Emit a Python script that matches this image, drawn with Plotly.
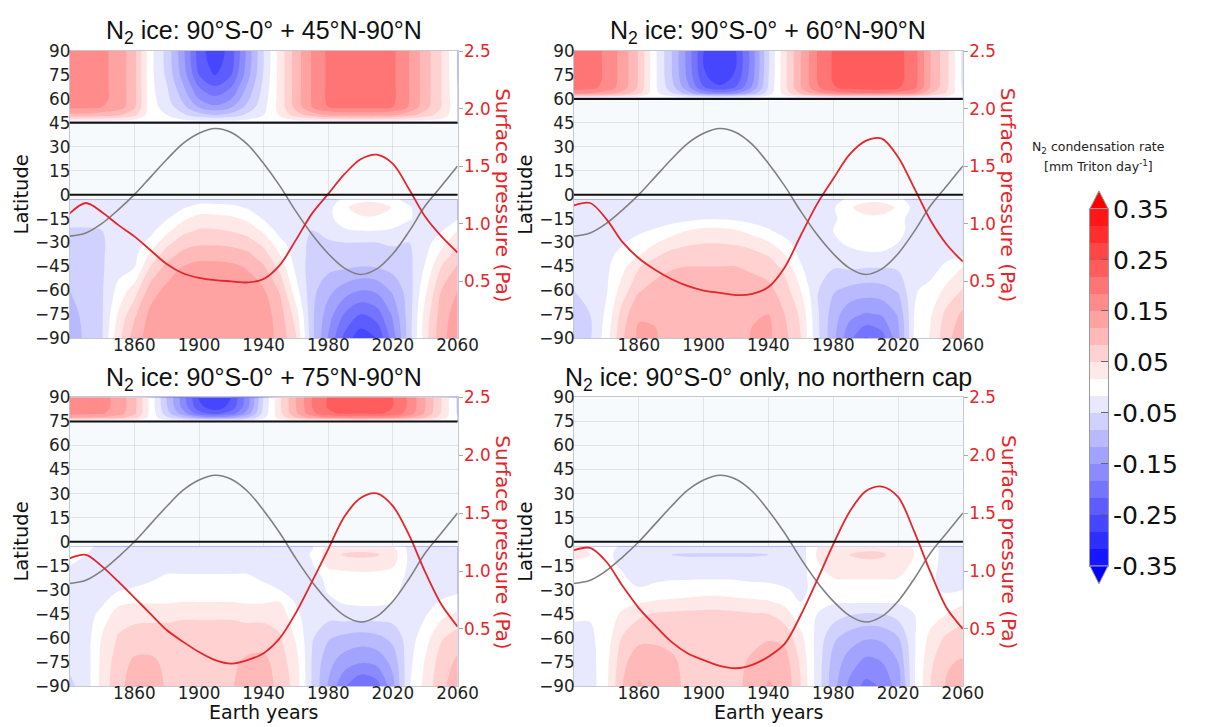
import numpy as np
import plotly.graph_objects as go

# ---------------------------------------------------------------- data
YEARS = list(range(1820, 2061, 10))

# latitude of the grid rows (south cap, listed from the equator to the pole)
SOUTH_LATS = [-3, -8, -15, -22.5, -30, -37.5, -45, -60, -75, -90]
N1_LATS = [46, 50, 55, 60, 67.5, 75, 82.5, 90]
N2_LATS = [61, 63.5, 67, 72, 80, 90]
N3_LATS = [75.5, 77.5, 80, 84, 90]
CAP_EDGES = [45, 60, 75, None]

# subsolar latitude (grey curve, deg)
SUBSOLAR_LAT = [-26, -24, -18, -9.5, 0, 11, 22, 32, 38.5, 41.5, 39, 31.5, 19.5,
                5.5, -10.5, -25, -37, -46, -50, -46.5, -37, -23, -7, 5.5, 18]

# surface pressure (red curves, Pa)
P1_PRESSURE = [1.09, 1.18, 1.10, 0.99, 0.89, 0.77, 0.65, 0.57, 0.53, 0.51, 0.50, 0.49, 0.52,
               0.64, 0.86, 1.09, 1.26, 1.43, 1.56, 1.60, 1.52, 1.30, 1.06, 0.89, 0.75]
P2_PRESSURE = [1.16, 1.18, 1.04, 0.84, 0.70, 0.60, 0.52, 0.46, 0.42, 0.40, 0.38, 0.39, 0.45,
               0.62, 0.90, 1.17, 1.39, 1.60, 1.72, 1.74, 1.58, 1.31, 1.03, 0.82, 0.67]
P3_PRESSURE = [1.11, 1.14, 1.04, 0.91, 0.77, 0.63, 0.49, 0.39, 0.30, 0.23, 0.20, 0.23, 0.29,
               0.42, 0.64, 0.91, 1.19, 1.47, 1.63, 1.67, 1.56, 1.31, 0.99, 0.71, 0.52]
P4_PRESSURE = [1.18, 1.20, 1.08, 0.87, 0.68, 0.53, 0.39, 0.29, 0.23, 0.18, 0.16, 0.19, 0.26,
               0.37, 0.62, 0.92, 1.23, 1.51, 1.69, 1.73, 1.64, 1.34, 0.99, 0.68, 0.50]

# N2 condensation rate, in units of one colour-bar band (one year column per row)
P1_SOUTH = [
    [-1, -1, -1.2, -1.6, -1.9, -2, -2.1, -2.5, -2.9, -3.1],
    [-1, -1, -1.2, -1.6, -1.8, -1.85, -1.9, -2, -2.2, -2.3],
    [-1, -1, -1.1, -1.5, -1.6, -1.6, -1.6, -1.6, -1.6, -1.6],
    [-1, -1, -1.1, -1.1, -1.1, -1, -0.9, -0.2, 0.6, 1.2],
    [-1, -1, -1, -1, -1, -0.8, -0.6, 1, 2.3, 3],
    [-1, -1, -1, -0.8, -0.2, 0.7, 1.5, 3, 3.8, 4],
    [-1, -0.9, -0.6, 0.2, 1.2, 2, 2.8, 3.8, 4, 4.1],
    [-1, -0.6, 0.3, 1.2, 2, 2.8, 3.5, 4, 4, 4.1],
    [-1, -0.1, 0.85, 1.6, 2.3, 3.1, 3.8, 4, 4.1, 4.2],
    [-1, -0.1, 0.85, 1.6, 2.3, 3.1, 3.8, 4, 4.1, 4.2],
    [-1, -0.25, 0.7, 1.45, 2.2, 3, 3.7, 4, 4.1, 4.2],
    [-1, -0.6, 0.3, 1.1, 1.9, 2.7, 3.4, 4, 4, 4.1],
    [-1, -1, -0.6, 0.3, 1.2, 1.9, 2.6, 3.6, 4, 4],
    [-1, -1, -1, -0.9, -0.2, 0.5, 1.2, 2.4, 3, 3.2],
    [-1, -1, -1, -1.1, -1.1, -1, -0.8, -0.1, 1, 1.6],
    [-1, -1, -1.2, -1.5, -1.7, -1.8, -2, -2.2, -2.3, -2.2],
    [-1, -0.8, -0.7, -1.2, -1.6, -1.9, -2.2, -3.2, -4, -4.6],
    [-0.3, 0.2, -0.1, -0.6, -1.5, -1.9, -2.3, -4, -5.6, -6.8],
    [0, 1.3, 0.2, -0.5, -1.5, -2, -2.5, -4.5, -6.5, -8.2],
    [0, 1.3, 0.2, -0.5, -1.5, -1.9, -2.4, -4.3, -6, -7.5],
    [-0.3, 0.4, -0.1, -0.6, -1.4, -1.7, -2.1, -3.3, -4.3, -5],
    [-0.8, -0.4, -0.4, -1, -1.5, -1.7, -1.8, -2, -2, -2],
    [-1, -1, -1, -1.1, -0.9, -0.7, -0.4, 0.3, 0.9, 1.1],
    [-1, -1, -0.9, -0.6, 0.1, 0.8, 1.5, 2.5, 3, 3.2],
    [-1, -0.9, -0.6, 0.5, 1.3, 2, 2.6, 3.5, 4, 4.1],
]
P2_SOUTH = [
    [-0.6, -0.6, -0.8, -1.1, -1.2, -1.3, -1.3, -1.5, -1.9, -2.1],
    [-0.8, -0.8, -1, -1.1, -1.2, -1.2, -1.2, -1.4, -1.5, -1.6],
    [-1, -1, -1, -1, -0.9, -0.8, -0.7, -0.6, -0.3, 0],
    [-1, -1, -1, -0.9, -0.6, -0.2, 0.2, 1, 2, 2.4],
    [-1, -1, -1, -0.7, -0.1, 0.4, 1.4, 2.4, 3.4, 3.7],
    [-1, -1, -1, -0.4, 0.4, 1.3, 2, 2.9, 3.4, 3.6],
    [-1, -1, -0.9, 0, 1, 1.8, 2.4, 3, 3, 3],
    [-1, -1, -0.8, 0.5, 1.3, 2, 2.5, 3, 3, 3],
    [-1, -1, -0.6, 0.8, 1.45, 2.1, 2.5, 3, 3, 3],
    [-1, -1, -0.6, 0.8, 1.45, 2.1, 2.5, 3, 3, 3],
    [-1, -1, -0.7, 0.6, 1.35, 2, 2.5, 3, 3, 3],
    [-1, -1, -0.9, 0.1, 1.1, 1.8, 2.3, 3, 3.4, 3.6],
    [-1, -1, -1, -0.4, 0.6, 1.4, 2, 2.8, 3.5, 3.7],
    [-1, -1, -1, -0.9, -0.2, 0.5, 1.2, 2, 2.5, 2.8],
    [-1, -1, -1, -1.1, -1, -0.8, -0.4, 0.5, 1.3, 1.5],
    [-1, -1, -1, -1.1, -1.2, -1.3, -1.4, -1.4, -1.3, -1.2],
    [-0.9, -0.6, -0.6, -0.5, -0.7, -1, -1.4, -2.4, -3, -3.2],
    [-0.3, 0.3, -0.2, -0.1, -0.3, -0.8, -1.3, -2.8, -4.2, -5.2],
    [0, 1.2, 0.1, 0, -0.2, -0.6, -1.4, -3, -4.6, -6.6],
    [0, 1.2, 0.1, 0, -0.2, -0.6, -1.4, -2.9, -4.4, -6],
    [-0.3, 0.3, -0.2, -0.2, -0.5, -0.9, -1.3, -2.4, -3.4, -3.8],
    [-0.9, -0.8, -0.9, -0.9, -1, -1, -0.9, -0.6, -0.5, -0.4],
    [-1, -1, -1, -1.1, -1.1, -1.1, -0.9, -0.2, 0.4, 0.6],
    [-1, -1, -1, -1, -1, -0.8, -0.3, 0.8, 1.8, 2.2],
    [-1, -1, -1, -1, -0.9, -0.6, 0.5, 1.6, 2.7, 3.2],
]
P3_SOUTH = [
    [-0.3, -0.4, -0.5, -0.6, -0.9, -1, -1, -1.1, -1.3, -1.7],
    [-0.4, -0.5, -0.6, -0.8, -1, -1, -1, -1, -1, -1.1],
    [-0.6, -0.8, -1, -1, -1, -0.7, -0.2, 0.6, 0.8, 0.9],
    [-1, -1, -1, -0.9, -0.6, 0.2, 1, 1.6, 2, 2.2],
    [-1, -1, -1, -0.8, -0.4, 0.4, 1.2, 1.9, 2.7, 3],
    [-1, -1, -0.9, -0.6, -0.3, 0.4, 1.2, 2, 2.7, 3],
    [-1, -1, -0.7, -0.4, -0.2, 0.4, 1.2, 2, 2.3, 2.4],
    [-1, -1, -0.7, -0.4, -0.2, 0.5, 1.3, 2.1, 2.2, 2.3],
    [-1, -1, -0.7, -0.4, -0.2, 0.5, 1.3, 2.1, 2.2, 2.3],
    [-1, -1, -0.7, -0.4, -0.2, 0.5, 1.3, 2.1, 2.2, 2.3],
    [-1, -1, -0.7, -0.4, -0.2, 0.5, 1.3, 2.1, 2.3, 2.4],
    [-1, -1, -0.7, -0.4, -0.2, 0.4, 1.2, 2, 2.7, 3],
    [-1, -1, -0.9, -0.6, -0.3, 0.4, 1.2, 2, 2.8, 3],
    [-1, -1, -1, -0.9, -0.5, 0.5, 1.1, 1.6, 2, 2.2],
    [-1, -1, -1, -1, -0.9, -0.6, -0.3, 0.4, 0.9, 1.1],
    [-0.6, -0.4, -0.6, -1, -1, -1, -1.1, -1.4, -1.6, -1.6],
    [0.8, 1.1, 0.7, -0.2, -0.4, -0.7, -1.1, -2.4, -3.2, -3.6],
    [1, 1.6, 0.9, -0.1, -0.3, -0.4, -0.9, -2.8, -4, -5.4],
    [1.1, 1.7, 1, 0, -0.2, -0.3, -0.9, -3, -4.4, -6.5],
    [1, 1.6, 0.9, 0, -0.2, -0.3, -0.9, -2.8, -4.2, -6],
    [0.6, 1, 0.6, -0.1, -0.3, -0.5, -1, -2.2, -3.2, -3.8],
    [-0.8, -0.7, -0.7, -0.7, -0.8, -0.9, -1, -1, -0.8, -0.6],
    [-1, -1, -1, -1, -1, -0.9, -0.6, 0.1, 0.6, 0.8],
    [-1, -1, -1, -1, -0.9, -0.4, 0.2, 1.4, 2, 2.3],
    [-1, -1, -1, -1, -0.7, -0.1, 0.7, 2, 2.7, 3],
]
P4_SOUTH = [
    [0.6, 0.8, 0.2, -0.2, -0.3, -0.3, -0.4, -0.7, -1, -1.1],
    [0.3, 0.5, 0.1, -0.2, -0.3, -0.3, -0.4, -0.7, -0.9, -1],
    [-0.3, -0.3, -0.3, -0.3, -0.3, -0.2, -0.1, 0, 0.2, 0.3],
    [-0.6, -0.8, -0.6, -0.4, -0.2, 0.1, 0.7, 1.6, 2.2, 2.5],
    [-1, -1.1, -1, -0.8, -0.4, 0.4, 1.3, 2.2, 3.2, 3.6],
    [-1, -1.2, -1, -0.7, -0.2, 0.6, 1.6, 2.3, 3, 3.2],
    [-1, -1.5, -1.1, -0.6, -0.1, 0.7, 1.7, 2.2, 2.7, 2.8],
    [-1, -1.6, -1.1, -0.6, 0, 0.8, 1.8, 2, 2.2, 2.3],
    [-1, -1.6, -1.1, -0.6, 0.1, 0.9, 1.8, 2, 2.2, 2.3],
    [-1, -1.6, -1.1, -0.6, 0.1, 0.9, 1.8, 2, 2.2, 2.3],
    [-1, -1.6, -1.1, -0.6, 0, 0.8, 1.7, 2, 2.2, 2.3],
    [-1, -1.6, -1.1, -0.7, -0.1, 0.7, 1.6, 2.2, 2.7, 2.8],
    [-1, -1.5, -1, -0.7, -0.2, 0.6, 1.5, 2.4, 3.2, 3.6],
    [-1, -1.1, -1, -0.8, -0.4, 0.2, 1, 2.2, 3, 3.3],
    [-1, -1, -1, -0.9, -0.7, -0.5, -0.2, 0.8, 1.3, 1.5],
    [0.5, 0.6, 0.4, 0.1, -0.2, -0.3, -0.5, -0.8, -0.9, -0.9],
    [0.9, 1.2, 0.9, 0.5, -0.1, -0.4, -1, -2.3, -2.9, -3.1],
    [1.1, 1.5, 1.1, 0.6, -0.1, -0.4, -1.4, -3, -4, -4.8],
    [1.2, 1.7, 1.2, 0.6, -0.1, -0.4, -1.6, -3.4, -4.8, -5.8],
    [1.2, 1.6, 1.2, 0.6, -0.1, -0.4, -1.5, -3.3, -4.5, -5.4],
    [1, 1.2, 0.9, 0.5, -0.1, -0.4, -1.1, -2.6, -3.5, -4],
    [0.4, 0.5, 0.3, 0, -0.3, -0.4, -0.5, -0.6, -0.6, -0.6],
    [0, 0, -0.1, -0.3, -0.4, -0.3, 0, 0.8, 1.3, 1.5],
    [-1, -1, -1, -0.9, -0.6, -0.2, 0.5, 1.7, 2.4, 2.6],
    [-1, -1, -1, -0.9, -0.5, 0.3, 1.1, 2, 2.6, 2.8],
]
P1_NORTH = [
    [0.3, 3.2, 4.8, 5, 5, 5, 5, 5],
    [0.3, 3.2, 4.8, 5, 5, 5, 5, 5],
    [0.3, 3, 4.5, 4.7, 4.7, 4.7, 4.7, 4.7],
    [0.2, 2.7, 4.1, 4.2, 4.2, 4.2, 4.2, 4.2],
    [0.1, 1.8, 2.7, 2.8, 2.8, 2.8, 2.8, 2.8],
    [0, -0.1, -0.1, -0.1, -0.2, -0.2, -0.2, -0.2],
    [-0.1, -0.5, -0.9, -1.2, -1.4, -1.7, -1.8, -1.8],
    [-0.2, -1.3, -2.2, -2.7, -3.3, -3.9, -4.1, -4.2],
    [-0.3, -2.1, -3.6, -4.5, -5.5, -6.5, -6.9, -7],
    [-0.3, -2.5, -4.3, -5.2, -6.4, -7.6, -8, -8.2],
    [-0.3, -2.1, -3.6, -4.5, -5.5, -6.5, -6.9, -7],
    [-0.2, -1.3, -2.2, -2.7, -3.3, -3.9, -4.1, -4.2],
    [-0.1, -0.5, -0.8, -1, -1.2, -1.4, -1.5, -1.5],
    [0, 0.6, 0.9, 0.9, 0.9, 0.9, 0.9, 0.9],
    [0.2, 2, 2.9, 3, 3, 3, 3, 3],
    [0.2, 3, 4.5, 4.6, 4.6, 4.6, 4.6, 4.6],
    [0.3, 3.7, 5.5, 5.7, 5.7, 5.7, 5.7, 5.7],
    [0.3, 3.9, 5.8, 6, 6, 6, 6, 6],
    [0.3, 3.9, 5.8, 6, 6, 6, 6, 6],
    [0.3, 3.9, 5.8, 6, 6, 6, 6, 6],
    [0.3, 3.7, 5.5, 5.7, 5.7, 5.7, 5.7, 5.7],
    [0.2, 2.9, 4.4, 4.5, 4.5, 4.5, 4.5, 4.5],
    [0.2, 2, 2.9, 3, 3, 3, 3, 3],
    [0.1, 1, 1.5, 1.5, 1.5, 1.5, 1.5, 1.5],
    [0, -0.2, -0.3, -0.4, -0.5, -0.6, -0.6, -0.6],
]
P2_NORTH = [
    [0.6, 4.7, 6, 6.2, 6.2, 6.2],
    [0.6, 4.5, 5.8, 6, 6, 6],
    [0.5, 4, 5.1, 5.3, 5.3, 5.3],
    [0.4, 3.1, 4, 4.1, 4.1, 4.1],
    [0.2, 1.8, 2.3, 2.4, 2.4, 2.4],
    [0, -0.2, -0.3, -0.3, -0.3, -0.3],
    [-0.1, -1.4, -2, -2.3, -2.4, -2.4],
    [-0.2, -2.9, -4.1, -4.6, -4.8, -4.8],
    [-0.4, -4.5, -6.4, -7.1, -7.5, -7.5],
    [-0.4, -5.1, -7.2, -8.1, -8.5, -8.5],
    [-0.4, -4.5, -6.4, -7.1, -7.5, -7.5],
    [-0.3, -3, -4.3, -4.8, -5, -5],
    [-0.1, -1, -1.4, -1.5, -1.6, -1.6],
    [0.1, 0.9, 1.2, 1.2, 1.2, 1.2],
    [0.4, 2.6, 3.4, 3.5, 3.5, 3.5],
    [0.6, 4.1, 5.3, 5.5, 5.5, 5.5],
    [0.7, 5, 6.4, 6.6, 6.6, 6.6],
    [0.7, 5.3, 6.8, 7, 7, 7],
    [0.7, 5.4, 7, 7.2, 7.2, 7.2],
    [0.7, 5.4, 7, 7.2, 7.2, 7.2],
    [0.7, 5.1, 6.6, 6.8, 6.8, 6.8],
    [0.6, 4.5, 5.8, 6, 6, 6],
    [0.4, 2.6, 3.4, 3.5, 3.5, 3.5],
    [0.2, 1.4, 1.7, 1.8, 1.8, 1.8],
    [0, -0.5, -0.7, -0.8, -0.8, -0.8],
]
P3_NORTH = [
    [0.3, 3.5, 4.8, 5, 5],
    [0.3, 3.5, 4.8, 5, 5],
    [0.2, 3.4, 4.6, 4.8, 4.8],
    [0.2, 2.9, 4, 4.2, 4.2],
    [0.1, 2, 2.7, 2.8, 2.8],
    [0, 0.1, 0.2, 0.2, 0.2],
    [-0.1, -1.3, -2, -2.4, -2.5],
    [-0.3, -2.5, -4, -4.8, -5],
    [-0.4, -3.8, -6.1, -7.2, -7.6],
    [-0.4, -4.3, -6.8, -8.1, -8.5],
    [-0.4, -3.8, -6, -7.1, -7.5],
    [-0.3, -2.5, -4, -4.8, -5],
    [-0.1, -0.7, -1.1, -1.3, -1.4],
    [0.1, 0.9, 1.2, 1.3, 1.3],
    [0.2, 2.5, 3.3, 3.5, 3.5],
    [0.3, 3.9, 5.2, 5.5, 5.5],
    [0.3, 4.6, 6.3, 6.6, 6.6],
    [0.4, 4.9, 6.7, 7, 7],
    [0.4, 4.9, 6.7, 7, 7],
    [0.4, 4.9, 6.7, 7, 7],
    [0.3, 4.6, 6.2, 6.5, 6.5],
    [0.3, 3.7, 5, 5.3, 5.3],
    [0.2, 2.5, 3.3, 3.5, 3.5],
    [0.1, 1, 1.4, 1.5, 1.5],
    [0, -0.4, -0.6, -0.7, -0.7],
]

TITLES = ["N<sub>2</sub> ice: 90°S-0° + 45°N-90°N",
          "N<sub>2</sub> ice: 90°S-0° + 60°N-90°N",
          "N<sub>2</sub> ice: 90°S-0° + 75°N-90°N",
          "N<sub>2</sub> ice: 90°S-0° only, no northern cap"]
LAT_TICKS = list(range(-90, 91, 15))
YEAR_TICKS = [1860, 1900, 1940, 1980, 2020, 2060]
P_TICKS = [0.5, 1.0, 1.5, 2.0, 2.5]
CBAR_TICKS = [0.35, 0.25, 0.15, 0.05, -0.05, -0.15, -0.25, -0.35]
N_BANDS = 21

# ---------------------------------------------------------------- styling
W, H = 1209, 727
# measured mapping between figure pixels and the photographed window
SX, OX, SY, OY = 0.984, 6.5, 0.975, 15.5
FONT = "DejaVu Sans"
RED = "#e3262b"


def fx(X):  # window pixel -> paper fraction
    return ((X - OX) / SX) / W


def fy(Y):
    return 1 - ((Y - OY) / SY) / H


BAND = 0.7 / N_BANDS          # width of one colour band, mm Triton day^-1


def band_colour(k):
    v = int(round(255 * (1 - abs(k) / 11)))
    return f"rgb({v},{v},255)" if k < 0 else f"rgb(255,{v},{v})"


CSCALE = [[i / (N_BANDS - 1), band_colour(i - 10)] for i in range(N_BANDS)]
CONTOURS = dict(start=-9.5 * BAND, end=9.5 * BAND + BAND * 0.01, size=BAND,
                coloring="fill", showlines=False)

# plot boxes in window pixels: left, right, top, bottom
BOXES = [(68.3, 456.7, 45, 336.7), (573.3, 962.7, 45, 336.7),
         (68.3, 456.7, 396.7, 690), (573.3, 962.7, 396.7, 690)]
PANELS = [
    dict(south=P1_SOUTH, north=P1_NORTH, nlats=N1_LATS, pres=P1_PRESSURE),
    dict(south=P2_SOUTH, north=P2_NORTH, nlats=N2_LATS, pres=P2_PRESSURE),
    dict(south=P3_SOUTH, north=P3_NORTH, nlats=N3_LATS, pres=P3_PRESSURE),
    dict(south=P4_SOUTH, north=None, nlats=None, pres=P4_PRESSURE),
]

# colour bar geometry (window pixels)
CB_X0, CB_X1, CB_TOP, CB_BOT, ARROW = 1090, 1108, 205, 568, 18

fig = go.Figure()
layout = dict(width=W, height=H, margin=dict(l=0, r=0, t=0, b=0),
              paper_bgcolor="white", plot_bgcolor="#f7fafd",
              font=dict(family=FONT, size=17, color="#222"),
              showlegend=False)
shapes, annotations = [], []
grid = "rgba(110,120,130,0.16)"
frame = "#c4c8cc"

for i, (panel, box) in enumerate(zip(PANELS, BOXES)):
    n = i + 1
    xk = "x" if n == 1 else f"x{n}"
    yl_i, yr_i = 2 * n - 1, 2 * n
    ylk = "y" if yl_i == 1 else f"y{yl_i}"
    yrk = f"y{yr_i}"
    l, r, t, b = box

    south = np.array(panel["south"], dtype=float).T * BAND
    fig.add_trace(go.Contour(
        x=YEARS, y=SOUTH_LATS[::-1], z=south[::-1], xaxis=xk, yaxis=ylk,
        autocontour=False, contours=CONTOURS, colorscale=CSCALE,
        line=dict(width=0, smoothing=1.0), hoverinfo="skip", showscale=False))
    if panel["north"] is not None:
        north = np.array(panel["north"], dtype=float).T * BAND
        fig.add_trace(go.Contour(
            x=YEARS, y=panel["nlats"], z=north, xaxis=xk, yaxis=ylk,
            autocontour=False, contours=CONTOURS, colorscale=CSCALE,
            line=dict(width=0, smoothing=1.0), hoverinfo="skip", showscale=False))

    fig.add_trace(go.Scatter(x=YEARS, y=SUBSOLAR_LAT, xaxis=xk, yaxis=ylk,
                             mode="lines", line=dict(color="#808080", width=1.6,
                                                     shape="spline", smoothing=1.0),
                             hoverinfo="skip"))
    fig.add_trace(go.Scatter(x=YEARS, y=panel["pres"], xaxis=xk, yaxis=yrk,
                             mode="lines", line=dict(color=RED, width=1.8,
                                                     shape="spline", smoothing=0.9),
                             hoverinfo="skip"))

    for lat in [0, CAP_EDGES[i]]:
        if lat is None:
            continue
        shapes.append(dict(type="line", xref=f"{xk} domain", x0=0, x1=1,
                           yref=ylk, y0=lat, y1=lat,
                           line=dict(color="#111", width=2)))

    xname = "xaxis" if n == 1 else f"xaxis{n}"
    ylname = "yaxis" if yl_i == 1 else f"yaxis{yl_i}"
    yrname = f"yaxis{yr_i}"
    layout[xname] = dict(domain=[fx(l), fx(r)], anchor=ylk, range=[1820, 2060],
                         tickvals=YEAR_TICKS, showgrid=True, gridcolor=grid,
                         zeroline=False, showline=True, linecolor=frame,
                         mirror=True, ticks="", layer="above traces",
                         ticklabelstandoff=-8,
                         tickfont=dict(family=FONT, size=16.8, color="#222"))
    layout[ylname] = dict(domain=[fy(b), fy(t)], anchor=xk, range=[-90, 90],
                          tickvals=LAT_TICKS, showgrid=True, gridcolor=grid,
                          zeroline=False, showline=True, linecolor=frame,
                          mirror=True, ticks="", layer="above traces",
                          ticklabelstandoff=-5,
                          tickfont=dict(family=FONT, size=16.8, color="#222"))
    layout[yrname] = dict(overlaying=ylk, side="right", anchor=xk,
                          range=[0.005, 2.5], tickvals=P_TICKS, tickformat=".1f",
                          showgrid=False, zeroline=False, showline=False,
                          ticks="outside", ticklen=4, tickcolor="#aaa",
                          ticklabelstandoff=-2,
                          tickfont=dict(family=FONT, size=16.8, color=RED))

    cx = (l + r) / 2
    cy = (t + b) / 2
    annotations.append(dict(text=TITLES[i], xref="paper", yref="paper",
                            x=fx(cx), y=fy(t - 19), xanchor="center", yanchor="middle",
                            showarrow=False,
                            font=dict(family="Liberation Sans", size=25, color="#111")))
    annotations.append(dict(text="Latitude", xref="paper", yref="paper",
                            x=fx(l - 48), y=fy(cy), textangle=-90,
                            xanchor="center", yanchor="middle", showarrow=False,
                            font=dict(family=FONT, size=19.5, color="#111")))
    annotations.append(dict(text="Surface pressure (Pa)", xref="paper", yref="paper",
                            x=fx(r + 46), y=fy(cy), textangle=90,
                            xanchor="center", yanchor="middle", showarrow=False,
                            font=dict(family=FONT, size=20, color=RED)))
    if n >= 3:
        annotations.append(dict(text="Earth years", xref="paper", yref="paper",
                                x=fx(cx), y=fy(b + 26), xanchor="center",
                                yanchor="middle", showarrow=False,
                                font=dict(family=FONT, size=19, color="#111")))

# ---------------------------------------------------------------- colour bar
band_centres = [(k - 10) * BAND for k in range(N_BANDS)]
fig.add_trace(go.Heatmap(x=[0], y=band_centres, z=[[k] for k in range(N_BANDS)],
                         colorscale=CSCALE, zmin=0, zmax=N_BANDS - 1,
                         showscale=False, hoverinfo="skip", xaxis="x5", yaxis="y9"))
layout["xaxis5"] = dict(domain=[fx(CB_X0), fx(CB_X1)], anchor="y9", range=[-0.5, 0.5],
                        showticklabels=False, ticks="", showgrid=False, zeroline=False,
                        showline=True, mirror=True, linecolor="#999", linewidth=1)
layout["yaxis9"] = dict(domain=[fy(CB_BOT), fy(CB_TOP)], anchor="x5", side="right",
                        range=[-0.3502, 0.3502], tickvals=CBAR_TICKS,
                        ticktext=[f"{v:.2f}" for v in CBAR_TICKS],
                        ticks="inside", ticklen=7, tickcolor="#666",
                        showgrid=False, zeroline=False, showline=True, mirror=True,
                        linecolor="#999", linewidth=1, ticklabelstandoff=-1,
                        tickfont=dict(family=FONT, size=25.1, color="#111"))

cb_cx = (CB_X0 + CB_X1) / 2
annotations.append(dict(text="N<sub>2</sub> condensation rate", xref="paper",
                        yref="paper", x=fx(cb_cx), y=fy(143), showarrow=False,
                        xanchor="center", yanchor="middle",
                        font=dict(family=FONT, size=12.5, color="#222")))
annotations.append(dict(text="[mm Triton day<sup>-1</sup>]", xref="paper",
                        yref="paper", x=fx(cb_cx), y=fy(162), showarrow=False,
                        xanchor="center", yanchor="middle",
                        font=dict(family=FONT, size=12.5, color="#222")))
for (base, tip, col) in [(CB_TOP, CB_TOP - ARROW, "rgb(255,0,0)"),
                         (CB_BOT, CB_BOT + ARROW, "rgb(0,0,255)")]:
    path = (f"M {fx(CB_X0)},{fy(base)} L {fx(CB_X1)},{fy(base)} "
            f"L {fx(cb_cx)},{fy(tip)} Z")
    shapes.append(dict(type="path", xref="paper", yref="paper", path=path,
                       fillcolor=col, line=dict(color="#999", width=1)))

layout["shapes"] = shapes
layout["annotations"] = annotations
fig.update_layout(**layout)
fig.write_html("out.html")
